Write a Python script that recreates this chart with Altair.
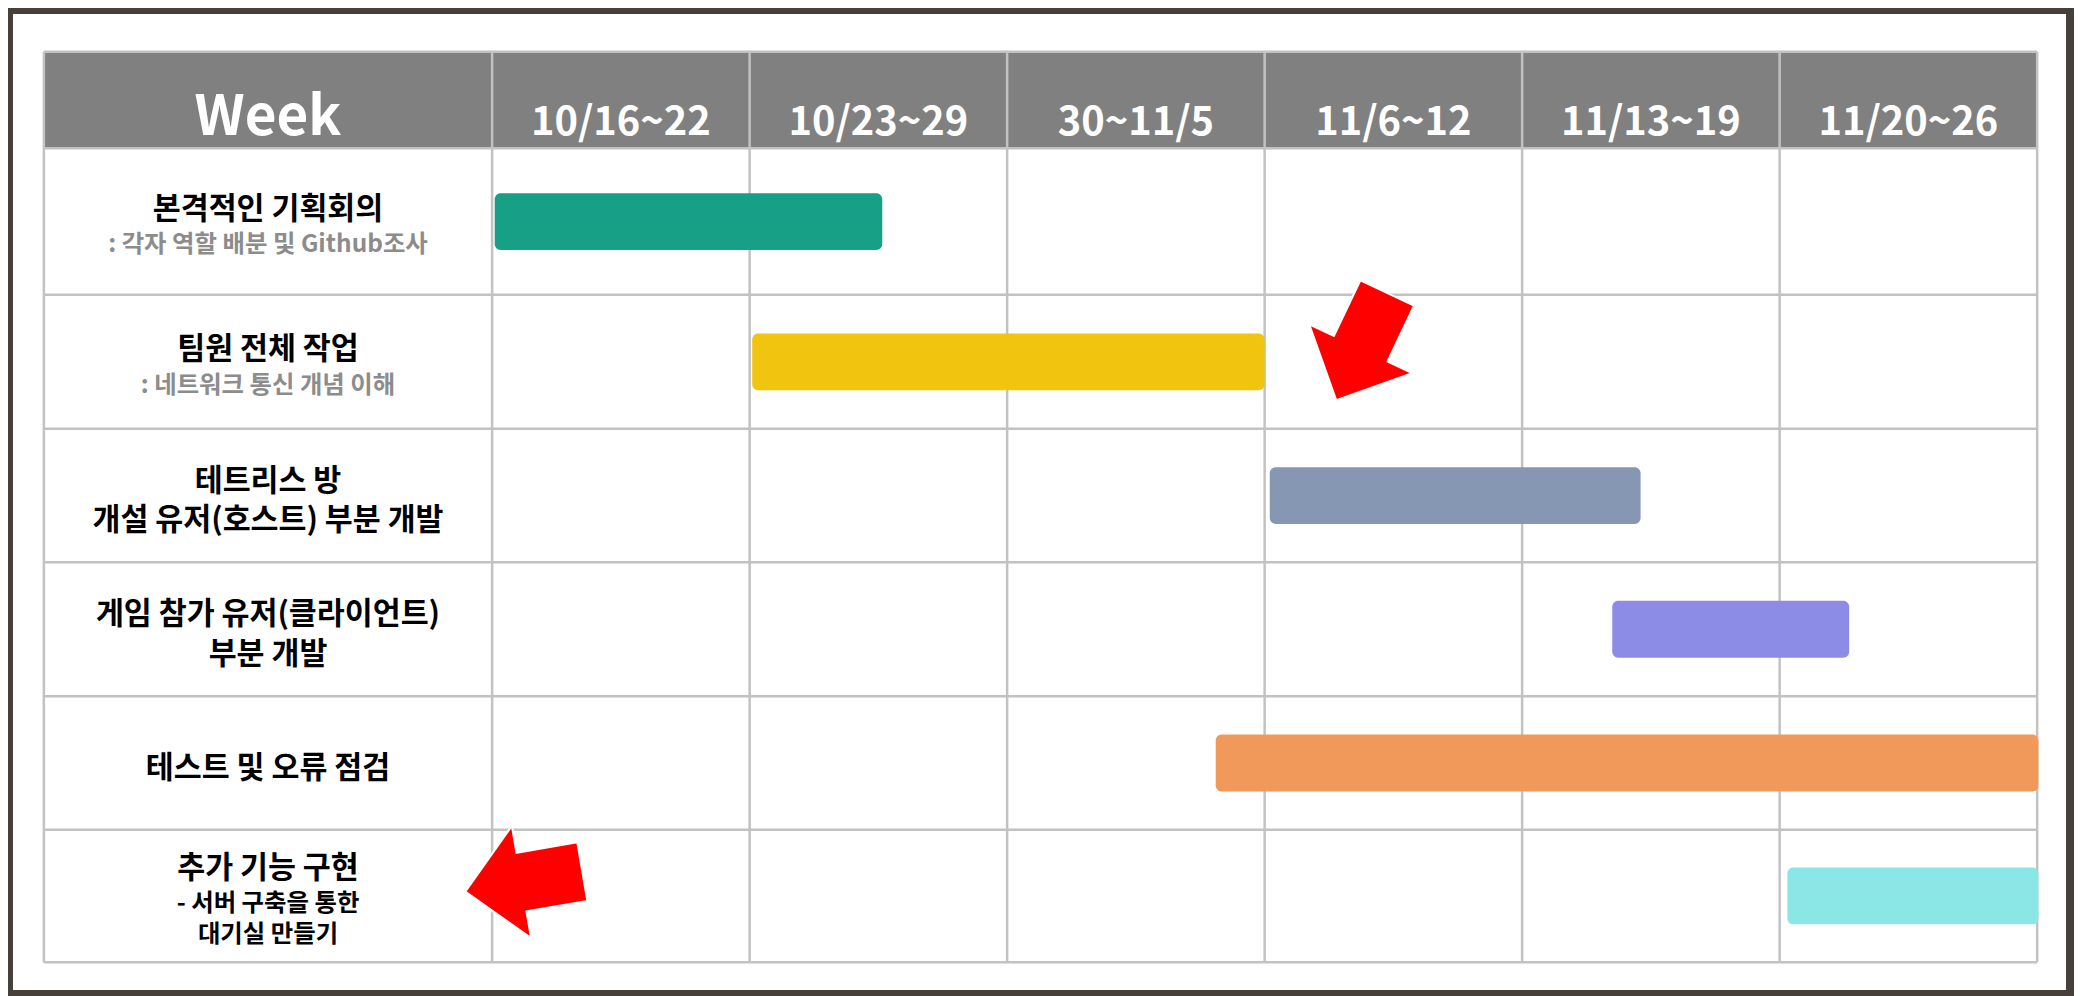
import altair as alt
import pandas as pd

# ---------------- data ----------------
WEEKS = ["10/16~22", "10/23~29", "30~11/5", "11/6~12", "11/13~19", "11/20~26"]
HEADER_LABEL = "Week"
TASK_TITLES = [
    ["본격적인 기획회의"],
    ["팀원 전체 작업"],
    ["테트리스 방", "개설 유저(호스트) 부분 개발"],
    ["게임 참가 유저(클라이언트)", "부분 개발"],
    ["테스트 및 오류 점검"],
    ["추가 기능 구현"],
]
TASK_NOTES = [
    [": 각자 역할 배분 및 Github조사"],
    [": 네트워크 통신 개념 이해"],
    [],
    [],
    [],
    ["- 서버 구축을 통한", "대기실 만들기"],
]
NOTE_COLORS = ["#8c8c8c", "#8c8c8c", "#000000", "#000000", "#000000", "#000000"]
TASK_START = [0.01, 1.01, 3.02, 4.35, 2.81, 5.03]     # weeks from 10/16
TASK_END = [1.515, 3.0, 4.46, 5.27, 6.005, 6.005]
TASK_COLORS = ["#17a086", "#f1c40f", "#8697b3", "#8c8ce6", "#f1995b", "#8be7e6"]

ARROW_WEEK = [3.377, 0.123]
ARROW_ROW = [2.209, 6.217]
ARROW_ANGLE = [115.4, 170.3]

# ---------------- layout ----------------
PX_WEEK = 258.5
PX_ROW = 134.0
LABEL_W = 450 / PX_WEEK
HEADER_H = 97 / PX_ROW
ROW_H = [147 / PX_ROW, 134.5 / PX_ROW, 134 / PX_ROW, 134.5 / PX_ROW, 134 / PX_ROW, 133 / PX_ROW]
PLOT_W, PLOT_H = 2069, 988
X_DOMAIN = [(9 - 494) / PX_WEEK, (2078 - 494) / PX_WEEK]
Y_DOMAIN = [(8 - 50) / PX_ROW, (996 - 50) / PX_ROW]
FONT = "Noto Sans CJK KR"
GRID = "#c2c2c2"

n_weeks = len(WEEKS)
edges = [0.0, HEADER_H]
for h in ROW_H:
    edges.append(edges[-1] + h)
bottom = edges[-1]
row_center = [(edges[i + 1] + edges[i + 2]) / 2 for i in range(len(TASK_TITLES))]

xs = alt.Scale(domain=X_DOMAIN, nice=False, zero=False)
ys = alt.Scale(domain=Y_DOMAIN, nice=False, zero=False, reverse=True)


def X(f):
    return alt.X(f, type="quantitative", scale=xs, axis=None)


def Y(f):
    return alt.Y(f, type="quantitative", scale=ys, axis=None)


# header background
header_df = pd.DataFrame({"x": [-LABEL_W], "x2": [n_weeks], "y": [0.0], "y2": [HEADER_H]})
header = alt.Chart(header_df).mark_rect(color="#808080").encode(
    x=X("x"), x2="x2", y=Y("y"), y2="y2"
)

# grid lines
vdf = pd.DataFrame({"x": [-LABEL_W] + list(range(n_weeks + 1))})
vdf["y"] = 0.0
vdf["y2"] = bottom
vlines = alt.Chart(vdf).mark_rule(color=GRID, strokeWidth=2.5).encode(
    x=X("x"), y=Y("y"), y2="y2"
)
hdf = pd.DataFrame({"y": edges})
hdf["x"] = -LABEL_W
hdf["x2"] = float(n_weeks)
hlines = alt.Chart(hdf).mark_rule(color=GRID, strokeWidth=2.5).encode(
    y=Y("y"), x=X("x"), x2="x2"
)

# bars
half = 28.5 / PX_ROW
bar_df = pd.DataFrame({
    "start": TASK_START,
    "end": TASK_END,
    "y": [c - half for c in row_center],
    "y2": [c + half for c in row_center],
    "color": TASK_COLORS,
})
bars = alt.Chart(bar_df).mark_bar(cornerRadius=6).encode(
    x=X("start"), x2="end", y=Y("y"), y2="y2",
    color=alt.Color("color:N", scale=None),
)

# header texts
htext_df = pd.DataFrame({
    "label": [HEADER_LABEL] + WEEKS,
    "x": [-LABEL_W / 2] + [i + 0.5 for i in range(n_weeks)],
    "size": [55] + [40] * n_weeks,
})
htext_df["y"] = HEADER_H - 13 / PX_ROW
htext = alt.Chart(htext_df).mark_text(
    font=FONT, fontWeight="bold", color="white", baseline="alphabetic", align="center"
).encode(
    x=X("x"), y=Y("y"), text="label:N", size=alt.Size("size:Q", scale=None)
)

# row label texts
BIG, SMALL = 30.5, 24.5
rows = []
for i, (titles, notes) in enumerate(zip(TASK_TITLES, TASK_NOTES)):
    lines = [(t, BIG, "#000000") for t in titles] + [(t, SMALL, NOTE_COLORS[i]) for t in notes]
    pos = [0.0]
    for a, b in zip(lines[:-1], lines[1:]):
        if a[1] == BIG and b[1] == BIG:
            d = 40
        elif a[1] == BIG:
            d = 36
        else:
            d = 31
        pos.append(pos[-1] + d)
    mid = (pos[0] + pos[-1]) / 2
    for (t, s, c), p in zip(lines, pos):
        rows.append({
            "label": t, "size": s, "color": c,
            "x": -LABEL_W / 2,
            "y": row_center[i] + (p - mid + 6) / PX_ROW,
        })
ltext_df = pd.DataFrame(rows)
ltext = alt.Chart(ltext_df).mark_text(
    font=FONT, fontWeight="bold", baseline="middle", align="center"
).encode(
    x=X("x"), y=Y("y"), text="label:N",
    size=alt.Size("size:Q", scale=None),
    color=alt.Color("color:N", scale=None),
)

# red arrows
ARROW_PATH = "M -1 -0.5 L 0.04 -0.5 L 0.04 -0.96 L 1 0 L 0.04 0.96 L 0.04 0.5 L -1 0.5 Z"
arrow_df = pd.DataFrame({"x": ARROW_WEEK, "y": ARROW_ROW, "angle": ARROW_ANGLE})
arrows = alt.Chart(arrow_df).mark_point(
    shape=ARROW_PATH, filled=True, fill="#ff0000", stroke="white", strokeWidth=2,
    opacity=1, size=14200
).encode(
    x=X("x"), y=Y("y"), angle=alt.Angle("angle:Q", scale=None)
)

chart = alt.layer(header, vlines, hlines, bars, htext, ltext, arrows).properties(
    width=PLOT_W, height=PLOT_H,
    autosize=alt.AutoSizeParams(type="none"),
    padding={"left": 1, "top": 0, "right": 4, "bottom": 0},
    background="white",
).configure_view(stroke="#473f3a", strokeWidth=8)

chart.save("out.html", embed_options={"renderer": "svg", "actions": False})
